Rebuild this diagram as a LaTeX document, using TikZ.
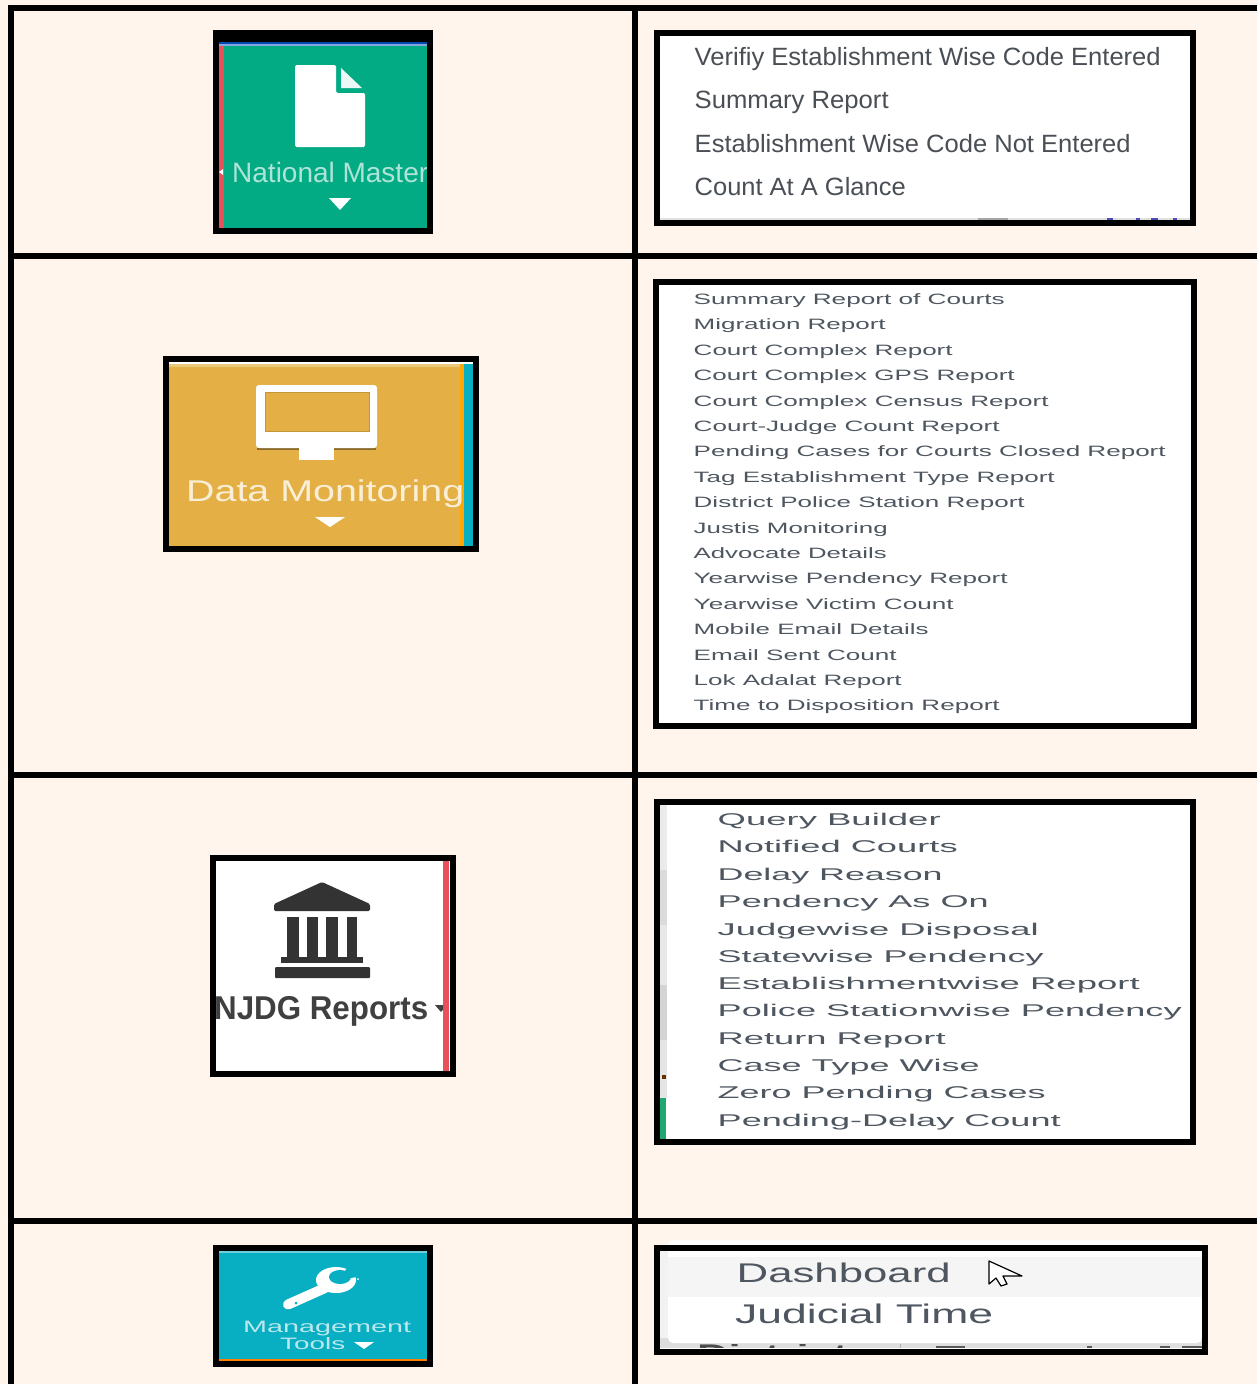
\documentclass[tikz,border=0pt]{standalone}
\usepackage{fontspec}
\setmainfont{Liberation Sans}
\definecolor{cellbg}{HTML}{FFF5EC}
\definecolor{nmgreen}{HTML}{02AB84}
\definecolor{redstrip}{HTML}{E8505A}
\definecolor{gold}{HTML}{E4B046}
\definecolor{teal}{HTML}{08AEC2}
\definecolor{menuA}{HTML}{4A4F55}
\definecolor{menuB}{HTML}{4E5660}
\definecolor{stripgreen}{HTML}{1FA870}
\newcommand{\fit}[2]{\resizebox{#1pt}{\height}{#2}}
\tikzset{
  rule/.style={line width=5.6pt,black},
  frame/.style={line width=6pt,black},
  itemA/.style={anchor=base west,inner sep=0pt,yshift=-8pt,text=menuA,font=\fontsize{25}{25}\selectfont},
  itemB/.style={anchor=base west,inner sep=0pt,yshift=-5.4pt,text=menuB,font=\fontsize{15}{15}\selectfont},
  itemC/.style={anchor=base west,inner sep=0pt,yshift=-6pt,text=menuB,font=\fontsize{17}{17}\selectfont},
  itemD/.style={anchor=base west,inner sep=0pt,yshift=-9.7pt,text=menuB,font=\fontsize{27}{27}\selectfont},
  mtitem/.style={anchor=base west,inner sep=0pt,yshift=-6pt,text=white!72!teal,font=\fontsize{16.5}{17}\selectfont},
}
\begin{document}
\begin{tikzpicture}[x=1pt,y=-1pt]
\useasboundingbox (0,0) rectangle (1257,1384);
\fill[cellbg] (0,0) rectangle (1257,1384);
% table rules
\draw[rule] (8.2,8) -- (1257,8);
\draw[rule] (11,5.2) -- (11,1384);
\draw[rule] (635,8) -- (635,1384);
\draw[rule] (11,255.7) -- (1257,255.7);
\draw[rule] (11,775) -- (1257,775);
\draw[rule] (11,1221) -- (1257,1221);

% ---- National Master
\fill[nmgreen] (219,36) rectangle (427,228);
\fill[black] (219,36) rectangle (427,42);
\fill[blue!60!cyan!70!black] (219,42) rectangle (427,44);
\fill[cyan!50!blue!50] (219,44) rectangle (427,46);
\fill[redstrip] (219,46) rectangle (224,228);
\fill[white,rounded corners=1.5pt] (295,65) -- (336,65) -- (336,93) -- (365,93) -- (365,147) -- (295,147) -- cycle;
\fill[white!92!nmgreen] (341,68) -- (341,88) -- (362,88) -- cycle;
\begin{scope}
\clip (224,150) rectangle (427,195);
\node[anchor=west,inner sep=0pt,text=white!68!nmgreen,font=\fontsize{28}{28}\selectfont] (nm) at (232,172) {\fit{196}{National Master}};
\end{scope}
\fill[white] (329,198) -- (351,198) -- (340,210) -- cycle;
\fill[white] (219,172) -- (223,169) -- (223,175) -- cycle;
\draw[frame] (216,33) rectangle (430,231);

% ---- Data Monitoring
\fill[gold] (169,362) rectangle (473,546);
\fill[white] (169,362) rectangle (473,364);
\fill[gold!70!white] (169,364) rectangle (473,367);
\fill[orange!70!yellow] (460,364) rectangle (464,546);
\fill[teal] (464,364) rectangle (473,546);
\fill[black!40!gold] (257,448) rectangle (376,450);
\fill[white,rounded corners=3pt] (256,385) rectangle (377,448);
\fill[gold] (265,392) rectangle (369,431);
\draw[black!15!gold,line width=1pt] (265,392) rectangle (369,431);
\fill[white] (299,446) rectangle (334,460);
\node[anchor=base west,inner sep=0pt,yshift=-10.7pt,text=gold!22!white,font=\fontsize{30}{30}\selectfont] (dm) at (186,491) {\fit{278}{Data Monitoring}};
\fill[white] (315,517) -- (345,517) -- (330,527) -- cycle;
\draw[frame] (166,359) rectangle (476,549);

% ---- NJDG Reports
\fill[white] (216,861) rectangle (450,1071);
\fill[redstrip] (443,861) rectangle (449,1071);
\fill[black!80,rounded corners=1.5pt] (322,882) -- (370,904) -- (370,911) -- (274,911) -- (274,904) -- cycle;
\foreach \a/\b in {287/299,307/318,326/338,347/357}{\fill[black!80] (\a,917) rectangle (\b,958);}
\fill[black!80] (281,957) rectangle (363,963);
\fill[black!80,rounded corners=1pt] (275,967) rectangle (370,978);
\begin{scope}
\clip (216,985) rectangle (443,1030);
\node[anchor=base west,inner sep=0pt,yshift=-12pt,text=black!75,font=\bfseries\fontsize{33}{33}\selectfont] (nj) at (214,1007) {\fit{214}{NJDG Reports}};
\fill[black!75] (435,1005) -- (447,1005) -- (441,1012) -- cycle;
\end{scope}
\draw[frame] (213,858) rectangle (453,1074);

% ---- Management Tools
\fill[teal] (219,1251) rectangle (427,1361);
\fill[teal!60!white] (219,1251) rectangle (427,1252.5);
\fill[orange] (219,1359) rectangle (427,1361);
\draw[white,line width=10pt,line cap=round] (288,1304.5) -- (325,1288);
\fill[white] (336,1280) ellipse [x radius=20,y radius=13];
\fill[teal] (340,1277) ellipse [x radius=11,y radius=7];
\fill[teal] (340,1277) -- (352,1262) -- (362,1262) -- (362,1276) -- (351,1278) -- cycle;
\fill[white] (358,1279) circle (1pt);
\fill[teal] (296,1303) circle (1.5);
\node[mtitem] (mt1) at (243,1326) {\fit{168}{Management}};
\node[mtitem] (mt2) at (280,1343) {\fit{65}{Tools}};
\fill[white] (354,1342) -- (374,1342) -- (364,1349) -- cycle;
\draw[frame] (216,1248) rectangle (430,1364);

% ---- Menu 1
\fill[white] (660,36) rectangle (1190,220);
\fill[black!12] (660,218) rectangle (1190,220);
\fill[black!35] (978,218) rectangle (1008,220);
\foreach \a/\b in {1107/1113,1136/1140,1151/1158,1173/1177}{\fill[blue!60!black!70] (\a,218) rectangle (\b,220);}
\node[itemA] (a1) at (694.5,57) {\fit{466}{Verifiy Establishment Wise Code Entered}};
\node[itemA] (a2) at (694.5,100) {\fit{194}{Summary Report}};
\node[itemA] (a3) at (694.5,144) {\fit{436}{Establishment Wise Code Not Entered}};
\node[itemA] (a4) at (694.5,187) {\fit{211}{Count At A Glance}};
\draw[frame] (657,33) rectangle (1193,223);

% ---- Menu 2
\fill[white] (659,285) rectangle (1191,723);
\foreach \n/\y/\w/\t in {
 b1/299/311/Summary Report of Courts,
 b2/324.4/192/Migration Report,
 b3/350/259/Court Complex Report,
 b4/375.3/321/Court Complex GPS Report,
 b5/400.7/355/Court Complex Census Report,
 b6/426/306/Court-Judge Count Report,
 b7/451.4/472/Pending Cases for Courts Closed Report,
 b8/477/361/Tag Establishment Type Report,
 b9/502.3/331/District Police Station Report,
 b10/527.7/194/Justis Monitoring,
 b11/553/193/Advocate Details,
 b12/578.4/314/Yearwise Pendency Report,
 b13/604/260/Yearwise Victim Count,
 b14/629.3/235/Mobile Email Details,
 b15/654.7/203/Email Sent Count,
 b16/680/208/Lok Adalat Report,
 b17/705.4/306/Time to Disposition Report}{
 \node[itemB] (\n) at (693.5,\y) {\fit{\w}{\t}};
}
\draw[frame] (656,282) rectangle (1194,726);

% ---- Menu 3
\fill[white] (660,805) rectangle (1190,1139);
\foreach \a/\b/\c in {805/870/8,870/925/14,925/985/9,985/1040/17,1040/1098/10}{\fill[black!\c] (660,\a) rectangle (667,\b);}
\fill[black!60!orange] (662,1075) rectangle (666,1079);
\fill[stripgreen] (660,1098) rectangle (666,1139);
\foreach \n/\y/\w/\t in {
 c1/819/223/Query Builder,
 c2/846.4/240/Notified Courts,
 c3/874/225/Delay Reason,
 c4/901.4/271/Pendency As On,
 c5/929/321/Judgewise Disposal,
 c6/956.4/326/Statewise Pendency,
 c7/983.6/422/Establishmentwise Report,
 c8/1010.8/464/Police Stationwise Pendency,
 c9/1038/228/Return Report,
 c10/1065/262/Case Type Wise,
 c11/1092.4/328/Zero Pending Cases,
 c12/1120/343/Pending-Delay Count}{
 \node[itemC] (\n) at (717.5,\y) {\fit{\w}{\t}};
}
\draw[frame] (657,802) rectangle (1193,1142);

% ---- Menu 4
\fill[white] (660,1251) rectangle (1202,1349);
\fill[black!13] (660,1338) rectangle (1202,1349);
\fill[black!5] (660,1251) rectangle (668,1338);
\fill[white,rounded corners=5pt] (668,1240) rectangle (1202,1343);
\fill[black!4] (668,1257) rectangle (1202,1297);
\begin{scope}
\clip (660,1344) rectangle (1202,1348);
\node[anchor=base west,inner sep=0pt,text=black!70,font=\bfseries\fontsize{27}{27}\selectfont] (d3) at (697,1363.5) {\fit{165}{District:}};
\foreach \a/\b in {936/965,1087/1092,1160/1170,1182/1203}{\fill[black!65] (\a,1346) rectangle (\b,1348);}
\fill[black!30] (900,1343) rectangle (901,1348);
\end{scope}
\fill[white] (660,1348) rectangle (1202,1349);
\node[itemD] (d1) at (736.5,1273) {\fit{214}{Dashboard}};
\node[itemD] (d2) at (735,1314) {\fit{258}{Judicial Time}};
\draw[fill=white,line width=1.2pt,line join=round] (989,1261) -- (989,1284) -- (996,1278) -- (1001,1286) -- (1007,1284) -- (1003,1276) -- (1022,1276) -- cycle;
\draw[frame] (657,1248) rectangle (1205,1352);
\end{tikzpicture}
\end{document}
